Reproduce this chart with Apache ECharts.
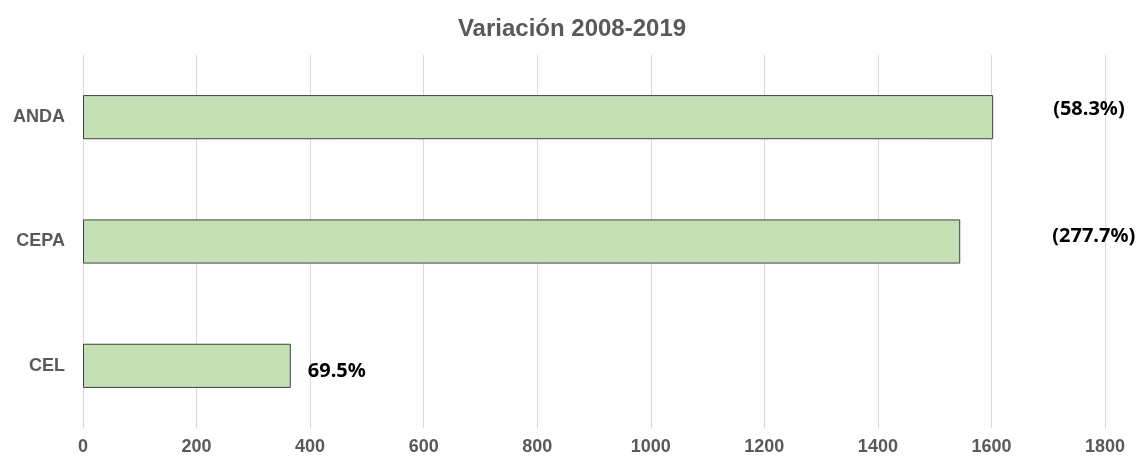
<!DOCTYPE html>
<html><head><meta charset="utf-8">
<script src="https://cdn.jsdelivr.net/npm/echarts@6/dist/echarts.min.js"></script>
<style>html,body{margin:0;padding:0;background:#fff}#c{width:1144px;height:459px}</style>
</head><body><div id="c"></div>
<script>
const categories = ['ANDA', 'CEPA', 'CEL'];
const values = [1603, 1545, 366];
const pctLabels = ['(58.3%)', '(277.7%)', '69.5%'];
const labelOffsets = [[60, -8], [92, -5], [17, 5]];
const xTicks = [0, 200, 400, 600, 800, 1000, 1200, 1400, 1600, 1800];

const chart = echarts.init(document.getElementById('c'));
chart.setOption({
  animation: false,
  title: {
    text: 'Variación 2008-2019', left: 'center', top: 12,
    textStyle: { fontFamily: 'Liberation Sans, Arial', fontWeight: 'bold', fontSize: 24, color: '#595959' }
  },
  grid: { left: 83, right: 39, top: 55, bottom: 31, containLabel: false },
  xAxis: {
    type: 'value', min: xTicks[0], max: xTicks[xTicks.length - 1], interval: 200,
    axisLine: { show: false }, axisTick: { show: false },
    splitLine: { lineStyle: { color: '#d9d9d9', width: 1 } },
    axisLabel: { margin: 10, formatter: v => String(v), fontFamily: 'Liberation Sans, Arial', fontWeight: 'bold', fontSize: 18, color: '#595959' }
  },
  yAxis: {
    type: 'category', data: categories, inverse: true,
    axisLine: { show: false }, axisTick: { show: false },
    axisLabel: { margin: 18, fontFamily: 'Liberation Sans, Arial', fontWeight: 'bold', fontSize: 18, color: '#595959' }
  },
  series: [{
    type: 'bar', barWidth: '35.5%',
    data: values.map((v, i) => ({
      value: v,
      label: {
        show: true, position: 'right', distance: 0, offset: labelOffsets[i],
        formatter: pctLabels[i],
        fontFamily: 'Noto Sans, Open Sans, sans-serif', fontWeight: 'bold', fontSize: 20, color: '#000'
      }
    })),
    itemStyle: { color: '#C5E0B4', borderColor: '#404040', borderWidth: 1 }
  }]
});
</script></body></html>
